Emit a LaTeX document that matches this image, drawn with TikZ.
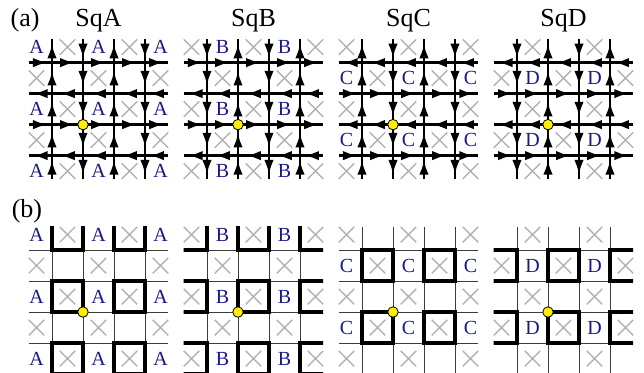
\documentclass[tikz,border=0pt]{standalone}
\usepackage{fontspec}
\setmainfont{Liberation Serif}
\usetikzlibrary{arrows.meta}
\definecolor{labblue}{RGB}{25,25,135}
\definecolor{crossgray}{RGB}{178,178,178}
\definecolor{dotyellow}{RGB}{255,238,0}
\definecolor{linegray}{RGB}{60,60,60}

\tikzset{
  cross/.style={crossgray, line width=1.4pt},
  cellab/.style={text=labblue, font=\fontsize{20}{22}\selectfont, inner sep=0pt},
  title/.style={font=\fontsize{26}{30}\selectfont, anchor=base, inner sep=0pt},
  link/.style={line width=2.5pt},
  linktip/.style={line width=2.5pt, -{Latex[length=14.5pt,width=9.5pt]}},
  thinlink/.style={linegray, line width=0.9pt},
  plaq/.style={line width=3.8pt},
  site/.style={circle, fill=dotyellow, draw=black, line width=0.8pt,
    minimum size=10.5pt, inner sep=0pt},
}

% letters and crosses of one 5x5 block: prefix, letter, column parity, row parity
\newcommand\sqcells[4]{%
  \foreach \ci in {0,...,4}{
    \foreach \ri in {0,...,4}{
      \pgfmathtruncatemacro\dcol{mod(\ci+#3,2)}
      \pgfmathtruncatemacro\drow{mod(\ri+#4,2)}
      \pgfmathtruncatemacro\dsum{\dcol+\drow}
      \ifnum\dsum=0
        \node[cellab] (#1-#2-\ci-\ri) at (\ci+0.5,\ri+0.5) {#2};
      \fi
      \ifnum\dsum=1
        \draw[cross] (\ci+0.25,\ri+0.25) -- (\ci+0.75,\ri+0.75)
                     (\ci+0.25,\ri+0.75) -- (\ci+0.75,\ri+0.25);
      \fi
    }
  }%
}

\begin{document}
\begin{tikzpicture}[x=31pt, y=-31pt]
  \useasboundingbox (0,0) rectangle (20.774,12.032);
  \node[title] (tag-a) at (0.81,0.87) {(a)};
  \node[title] (tag-b) at (0.87,7.00) {(b)};
  \foreach \k/\sq/\p/\q in {0/A/0/0, 1/B/1/0, 2/C/0/1, 3/D/1/1}{
    \node[title] (title-\sq) at (3.177+5*\k,0.87) {Sq\sq};
    % (a) arrow lattice
    \begin{scope}[shift={(0.677+5*\k,1.02)}]
      \sqcells{a}{\sq}{\p}{\q}
      \foreach \hl in {1,...,4}{
        \pgfmathtruncatemacro\hdir{mod(\hl-1+\q,2)}
        \pgfmathtruncatemacro\vdir{mod(\hl-1+\p,2)}
        \draw[link] (0.25,\hl) -- (4.75,\hl) (\hl,0.25) -- (\hl,4.75);
        \foreach \sm in {0.625,1.5,2.5,3.5,4.375}{
          \ifnum\hdir=0 \draw[linktip] (\sm-0.23,\hl) -- (\sm+0.23,\hl);
          \else \draw[linktip] (\sm+0.23,\hl) -- (\sm-0.23,\hl); \fi
          \ifnum\vdir=0 \draw[linktip] (\hl,\sm+0.23) -- (\hl,\sm-0.23);
          \else \draw[linktip] (\hl,\sm-0.23) -- (\hl,\sm+0.23); \fi
        }
      }
      \node[site] (site-a-\sq) at (2,3) {};
    \end{scope}
    % (b) plaquettes
    \begin{scope}[shift={(0.677+5*\k,7.065)}]
      \sqcells{b}{\sq}{\p}{\q}
      \begin{scope}
        \clip (0.25,0.25) rectangle (4.75,5.2);
        \foreach \hl in {1,...,4}{
          \draw[thinlink] (0.25,\hl) -- (4.75,\hl);
          \draw[thinlink] (\hl,0.25) -- (\hl,5.2);
        }
        \foreach \ci in {0,...,4}{
          \foreach \ri in {0,...,4}{
            \pgfmathtruncatemacro\dcol{mod(\ci+\p,2)}
            \pgfmathtruncatemacro\drow{mod(\ri+\q,2)}
            \ifnum\dcol=1 \ifnum\drow=0
              \draw[plaq] (\ci,\ri) rectangle ++(1,1);
            \fi\fi
          }
        }
      \end{scope}
      \node[site] (site-b-\sq) at (2,3) {};
    \end{scope}
  }
\end{tikzpicture}
\end{document}
